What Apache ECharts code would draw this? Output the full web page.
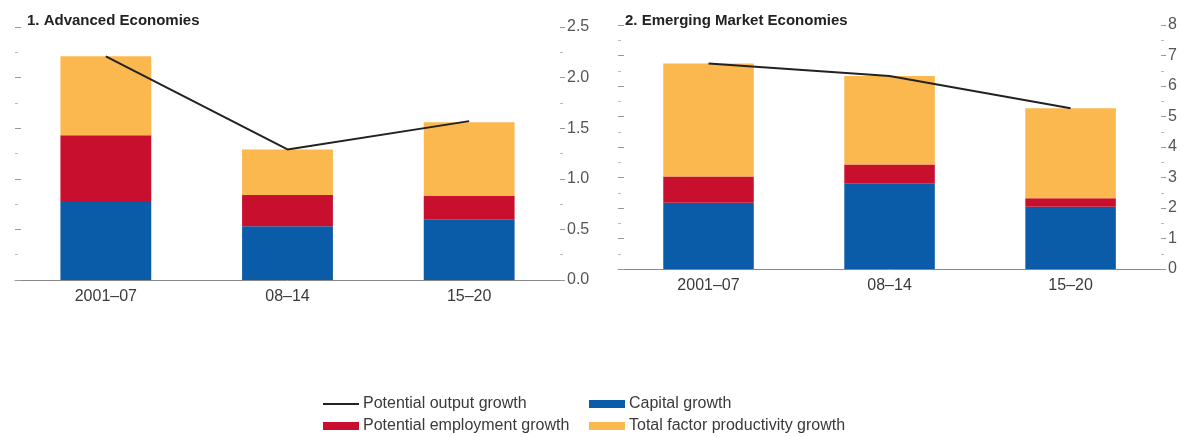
<!DOCTYPE html>
<html><head><meta charset="utf-8">
<script src="https://cdn.jsdelivr.net/npm/echarts@6/dist/echarts.min.js"></script>
<style>html,body{margin:0;padding:0;background:#fff}#c{width:1180px;height:437px}</style>
</head><body><div id="c"></div>
<script>
const categories = ['2001–07', '08–14', '15–20'];
const aeCapital = [0.77, 0.53, 0.60];
const aeEmployment = [0.66, 0.31, 0.23];
const aeTFP = [0.78, 0.45, 0.73];
const aePotential = [2.21, 1.29, 1.57];
const emCapital = [2.17, 2.81, 2.04];
const emEmployment = [0.86, 0.62, 0.28];
const emTFP = [3.71, 2.90, 2.95];
const emPotential = [6.74, 6.33, 5.27];
const titles = ['1. Advanced Economies', '2. Emerging Market Economies'];
const names = ['Potential output growth', 'Capital growth', 'Potential employment growth', 'Total factor productivity growth'];

const FONT = "'Liberation Sans',Arial,sans-serif";
const BLUE = '#0a5ca8', RED = '#c8102e', YEL = '#fbb84e';
const chart = echarts.init(document.getElementById('c'), null, {renderer: 'canvas'});

function xAx(gi) {
  return {type: 'category', gridIndex: gi, data: categories,
    axisLine: {lineStyle: {color: '#888', width: 1}}, axisTick: {show: false},
    axisLabel: {color: '#3a3a3a', fontSize: 16, fontFamily: FONT, margin: 9}};
}
function yAx(gi, max, interval, pos, show, dec) {
  return {type: 'value', gridIndex: gi, min: 0, max: max, interval: interval, position: pos,
    axisLine: {show: false}, splitLine: {show: false},
    axisTick: {show: true, inside: !show, length: show ? 5 : 6, lineStyle: {color: '#999'}},
    minorTick: {show: true, splitNumber: 2, length: 3, lineStyle: {color: '#bbb'}},
    axisLabel: {show: show, color: '#555', fontSize: 16, fontFamily: FONT, margin: show ? 7 : 0,
      formatter: v => dec ? v.toFixed(1) : String(v)}};
}
function bar(name, data, gi, color) {
  return {name: name, type: 'bar', stack: 's' + gi, xAxisIndex: gi, yAxisIndex: gi * 2 + 1,
    data: data, barWidth: '50%', itemStyle: {color: color}, emphasis: {disabled: true}};
}
function line(data, gi) {
  return {name: names[0], type: 'line', xAxisIndex: gi, yAxisIndex: gi * 2 + 1, data: data,
    symbol: 'none', lineStyle: {color: '#222', width: 2}, itemStyle: {color: '#222'}, z: 5};
}
function leg(name, left, top, isLine) {
  return {left: left, top: top, orient: 'horizontal', itemWidth: 36,
    itemHeight: isLine ? 2 : 8, icon: 'rect', data: [name], selectedMode: false, padding: 0,
    textStyle: {fontSize: 16, color: '#3a3a3a', fontFamily: FONT, padding: [0, 0, 0, -1]}};
}

chart.setOption({
  animation: false,
  title: [
    {text: titles[0], left: 22, top: 8, textStyle: {fontSize: 15, fontWeight: 'bold', color: '#222', fontFamily: FONT}},
    {text: titles[1], left: 620, top: 8, textStyle: {fontSize: 15, fontWeight: 'bold', color: '#222', fontFamily: FONT}}
  ],
  grid: [
    {left: 15, right: 620, top: 27, bottom: 157},
    {left: 618, right: 18, top: 25, bottom: 168}
  ],
  xAxis: [xAx(0), xAx(1)],
  yAxis: [
    yAx(0, 2.5, 0.5, 'left', false, true), yAx(0, 2.5, 0.5, 'right', true, true),
    yAx(1, 8, 1, 'left', false, false), yAx(1, 8, 1, 'right', true, false)
  ],
  legend: [
    leg(names[0], 323, 396, true), leg(names[2], 323, 418, false),
    leg(names[1], 589, 396, false), leg(names[3], 589, 418, false)
  ],
  series: [
    bar(names[1], aeCapital, 0, BLUE), bar(names[2], aeEmployment, 0, RED), bar(names[3], aeTFP, 0, YEL),
    line(aePotential, 0),
    bar(names[1], emCapital, 1, BLUE), bar(names[2], emEmployment, 1, RED), bar(names[3], emTFP, 1, YEL),
    line(emPotential, 1)
  ]
});
</script></body></html>
